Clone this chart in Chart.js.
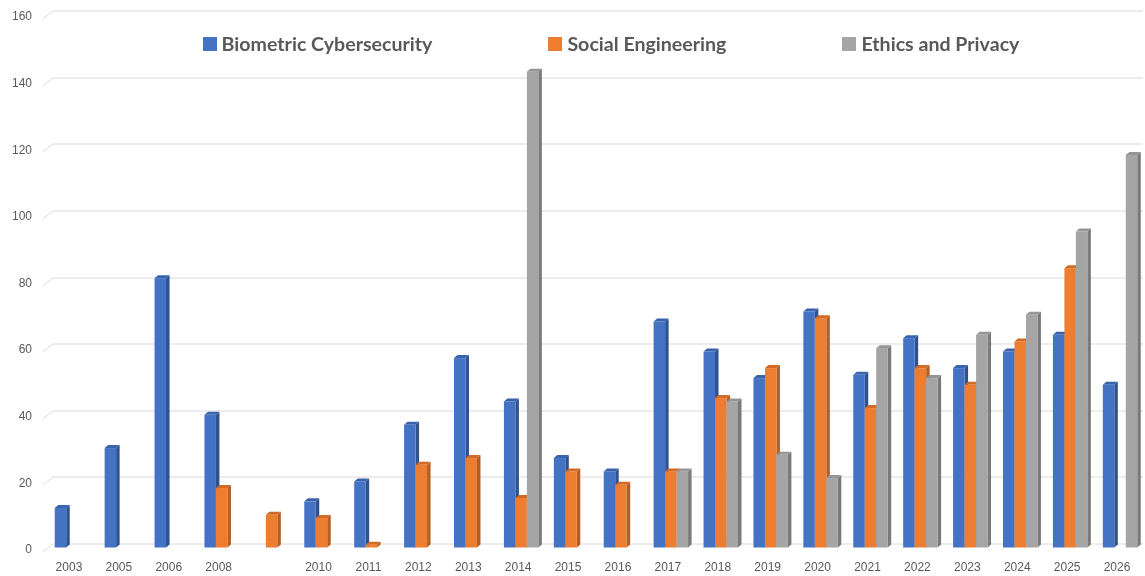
<!DOCTYPE html>
<html>
<head>
<meta charset="utf-8">
<script src="https://cdn.jsdelivr.net/npm/chart.js@4.4.1/dist/chart.umd.min.js"></script>
<style>
html,body{margin:0;padding:0;background:#ffffff;}
#wrap{width:1145px;height:576px;position:relative;}
</style>
</head>
<body>
<div id="wrap"><canvas id="c" width="1145" height="576"></canvas></div>
<script>
// ---- data ----
const years = ['2003','2005','2006','2008','','2010','2011','2012','2013','2014','2015','2016','2017','2018','2019','2020','2021','2022','2023','2024','2025','2026'];
const biometric = [12,30,81,40,null,14,20,37,57,44,27,23,68,59,51,71,52,63,54,59,64,49];
const social    = [null,null,null,18,10,9,1,25,27,15,23,19,23,45,54,69,42,54,49,62,84,null];
const ethics    = [null,null,null,null,null,null,null,null,null,143,null,null,23,44,28,21,60,51,64,70,95,118];
const seriesNames = ['Biometric Cybersecurity','Social Engineering','Ethics and Privacy'];
const yTicks = [0,20,40,60,80,100,120,140,160];

// ---- styles ----
const frontColors = ['#4472C4','#ED7D31','#A5A5A5'];
const sideColors  = ['#2F528F','#B35E22','#7A7A7A'];
const topColors   = ['#3A63AD','#D06A27','#959595'];
const DX = 3.5, DY = 3, XSHIFT = 3;

function drawBar3D(ctx, x0, x1, yTop, yBase, d) {
  ctx.fillStyle = sideColors[d];
  ctx.beginPath();
  ctx.moveTo(x1, yTop);
  ctx.lineTo(x1 + DX, yTop - DY);
  ctx.lineTo(x1 + DX, yBase - DY);
  ctx.lineTo(x1, yBase);
  ctx.closePath();
  ctx.fill();
  ctx.fillStyle = topColors[d];
  ctx.beginPath();
  ctx.moveTo(x0, yTop);
  ctx.lineTo(x0 + DX, yTop - DY);
  ctx.lineTo(x1 + DX, yTop - DY);
  ctx.lineTo(x1, yTop);
  ctx.closePath();
  ctx.fill();
  ctx.fillStyle = frontColors[d];
  ctx.fillRect(x0, yTop, x1 - x0, yBase - yTop);
}

const bars3D = {
  id: 'bars3D',
  beforeDatasetsDraw(chart) {
    const ctx = chart.ctx;
    const area = chart.chartArea;
    const ys = chart.scales.y;
    ctx.save();
    ctx.strokeStyle = '#D9D9D9';
    ctx.lineWidth = 1;
    yTicks.forEach(v => {
      const y = Math.round(ys.getPixelForValue(v)) + 0.5;
      ctx.beginPath();
      ctx.moveTo(area.left - 1, y + 3);
      ctx.lineTo(area.left + 9, y - 4.5);
      ctx.lineTo(area.right + 1, y - 4.5);
      ctx.stroke();
    });
    const metas = chart.data.datasets.map((_, i) => chart.getDatasetMeta(i));
    const n = chart.data.labels.length;
    for (let i = 0; i < n; i++) {
      metas.forEach((meta, d) => {
        const el = meta.data[i];
        const raw = chart.data.datasets[d].data[i];
        if (!el || raw === null || raw === undefined) return;
        const p = el.getProps(['x','y','base','width'], true);
        const x0 = p.x - p.width / 2 + XSHIFT;
        const x1 = p.x + p.width / 2 + XSHIFT;
        drawBar3D(ctx, x0, x1, p.y, p.base, d);
      });
    }
    ctx.restore();
    return false;
  }
};

const topLegend = {
  id: 'topLegend',
  afterDraw(chart) {
    const ctx = chart.ctx;
    ctx.save();
    ctx.font = 'bold 19.6px Lato';
    ctx.textBaseline = 'middle';
    ctx.textAlign = 'left';
    const box = 14, gap = 5, spacing = 116, cx = 611, cy = 44;
    const items = chart.data.datasets.map((ds, d) => ({
      text: ds.label, color: frontColors[d], w: ctx.measureText(ds.label).width
    }));
    let total = spacing * (items.length - 1);
    items.forEach(it => total += box + gap + it.w);
    let x = cx - total / 2;
    items.forEach(it => {
      ctx.fillStyle = it.color;
      ctx.fillRect(Math.round(x), cy - 7, box, box);
      ctx.fillStyle = '#595959';
      ctx.fillText(it.text, x + box + gap, cy + 1);
      x += box + gap + it.w + spacing;
    });
    ctx.restore();
  }
};

const hiddenGrid = { display: true, color: 'rgba(0,0,0,0)', drawOnChartArea: false, drawTicks: true, tickLength: 12 };

new Chart(document.getElementById('c'), {
  type: 'bar',
  data: {
    labels: years,
    datasets: [
      { label: seriesNames[0], data: biometric, backgroundColor: frontColors[0] },
      { label: seriesNames[1], data: social,    backgroundColor: frontColors[1] },
      { label: seriesNames[2], data: ethics,    backgroundColor: frontColors[2] }
    ]
  },
  options: {
    responsive: false,
    maintainAspectRatio: false,
    devicePixelRatio: 1,
    animation: false,
    layout: { padding: { left: 10, right: 3, top: 15, bottom: 1.6 } },
    datasets: { bar: { categoryPercentage: 0.69, barPercentage: 1.0 } },
    plugins: {
      legend: { display: false },
      tooltip: { enabled: false }
    },
    scales: {
      x: {
        grid: hiddenGrid,
        border: { display: false },
        afterFit(scale) { scale.height = 26.4; },
        ticks: {
          color: '#595959',
          font: { family: 'Liberation Sans', size: 12 },
          padding: 0,
          maxRotation: 0,
          autoSkip: false
        }
      },
      y: {
        min: 0,
        max: 160,
        afterFit(scale) { scale.width = 34; },
        afterBuildTicks(scale) { scale.ticks = yTicks.map(v => ({ value: v })); },
        grid: hiddenGrid,
        border: { display: false },
        ticks: {
          color: '#595959',
          font: { family: 'Liberation Sans', size: 12 },
          padding: 0,
          labelOffset: 2
        }
      }
    }
  },
  plugins: [bars3D, topLegend]
});
</script>
</body>
</html>
